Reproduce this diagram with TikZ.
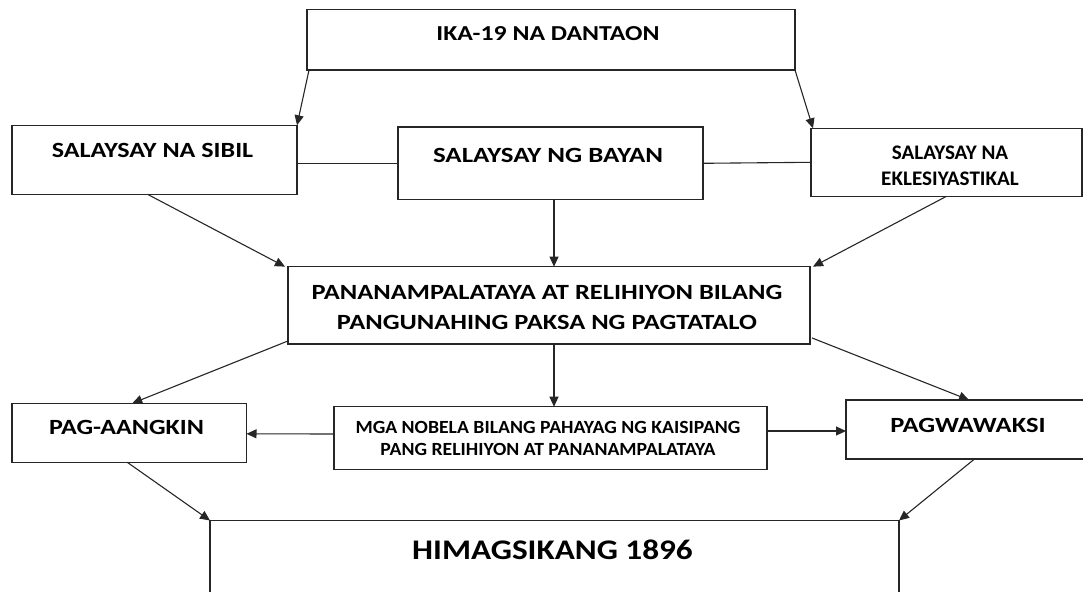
\documentclass[tikz,border=0pt]{standalone}
\usepackage{fontspec}
\usepackage{graphicx}
\setmainfont{Carlito}
\usetikzlibrary{arrows.meta}
\newcommand{\widetxt}[2]{\scalebox{#1}[1]{#2}}
\begin{document}
\begin{tikzpicture}[x=1pt,y=-1pt,
  box/.style={draw=black!85, line width=1.2pt, inner sep=0pt, outer sep=0pt},
  txt/.style={inner sep=0pt, outer sep=0pt, align=center, text=black},
  arr/.style={draw=black!85, line width=1.1pt, -{Triangle[length=10pt,width=9pt]}},
  conn/.style={draw=black!85, line width=1.1pt}]
\useasboundingbox (0,0) rectangle (1083,591);
\clip (0,0) rectangle (1083,591);
% boxes
\node[box, minimum width=488pt, minimum height=60.7pt] (top) at (551,39.7) {};
\node[box, minimum width=285pt, minimum height=69pt] (sibil) at (154.5,159.8) {};
\node[box, minimum width=305pt, minimum height=72.7pt] (bayan) at (550.5,163.3) {};
\node[box, minimum width=271pt, minimum height=68pt] (ekle) at (946.5,162.3) {};
\node[box, minimum width=522pt, minimum height=77.3pt] (main) at (549,305.3) {};
\node[box, minimum width=234.5pt, minimum height=59pt] (pag) at (129.25,432.8) {};
\node[box, minimum width=433pt, minimum height=62.6pt] (nobela) at (550.5,438) {};
\node[box, minimum width=260pt, minimum height=59pt] (pagw) at (976,429.5) {};
\node[box, minimum width=689pt, minimum height=99pt] (him) at (554.5,570) {};
% texts
\node[txt, font=\fontsize{21.3}{24}\selectfont\bfseries] (ttop) at (548,33.3) {\widetxt{1.21}{IKA-19 NA DANTAON}};
\node[txt, font=\fontsize{21.7}{24}\selectfont\bfseries] (tsibil) at (152.5,150) {\widetxt{1.2}{SALAYSAY NA SIBIL}};
\node[txt, font=\fontsize{21.7}{24}\selectfont\bfseries] (tbayan) at (548,155) {\widetxt{1.24}{SALAYSAY NG BAYAN}};
\node[txt, font=\fontsize{20.7}{25.6}\selectfont\bfseries] (tekle) at (950,165.5) {\widetxt{1.02}{SALAYSAY NA}\\\widetxt{1.02}{EKLESIYASTIKAL}};
\node[txt, font=\fontsize{21.7}{30.3}\selectfont\bfseries] (tmain) at (547,307.8) {\widetxt{1.22}{PANANAMPALATAYA AT RELIHIYON BILANG}\\\widetxt{1.22}{PANGUNAHING PAKSA NG PAGTATALO}};
\node[txt, font=\fontsize{21.7}{24}\selectfont\bfseries] (tpag) at (126.5,427.7) {\widetxt{1.2}{PAG-AANGKIN}};
\node[txt, font=\fontsize{18.6}{22.3}\selectfont\bfseries] (tnobela) at (548,438.8) {\widetxt{1.06}{MGA NOBELA BILANG PAHAYAG NG KAISIPANG}\\\widetxt{1.06}{PANG RELIHIYON AT PANANAMPALATAYA}};
\node[txt, font=\fontsize{21.7}{24}\selectfont\bfseries] (tpagw) at (968,425) {\widetxt{1.22}{PAGWAWAKSI}};
\node[txt, font=\fontsize{28.4}{30}\selectfont\bfseries] (thim) at (552.5,550) {\widetxt{1.17}{HIMAGSIKANG 1896}};
% plain connectors
\draw[conn] (bayan.west -| sibil.east) -- (bayan.west);
\draw[conn] (bayan.east) -- (ekle.west);
% arrows
\draw[arr] ([xshift=2pt]top.south west) -- (sibil.north east);
\draw[arr] (top.south east) -- ([xshift=2pt]ekle.north west);
\draw[arr] ([xshift=-7pt]sibil.south) -- ([xshift=-3pt]main.north west);
\draw[arr] ([xshift=3.5pt]bayan.south) -- ([xshift=3.5pt]bayan.south |- main.north);
\draw[arr] (ekle.south) -- ([xshift=3pt]main.north east);
\draw[arr] ([yshift=3pt]main.south west) -- ([xshift=3pt]pag.north);
\draw[arr] ([xshift=5pt]main.south) -- ([xshift=5pt]main.south |- nobela.north);
\draw[arr] ([yshift=4pt]nobela.west) -- ([yshift=-1pt]pag.east);
\draw[arr] ([yshift=7pt]nobela.east) -- ([yshift=7pt]nobela.east -| pagw.west);
\draw[arr] ([xshift=2pt,yshift=6pt]main.south east) -- ([xshift=-7pt]pagw.north);
\draw[arr] ([xshift=-2pt]pag.south) -- (him.north west);
\draw[arr] ([xshift=-1.5pt]pagw.south) -- (him.north east);
\end{tikzpicture}
\end{document}
